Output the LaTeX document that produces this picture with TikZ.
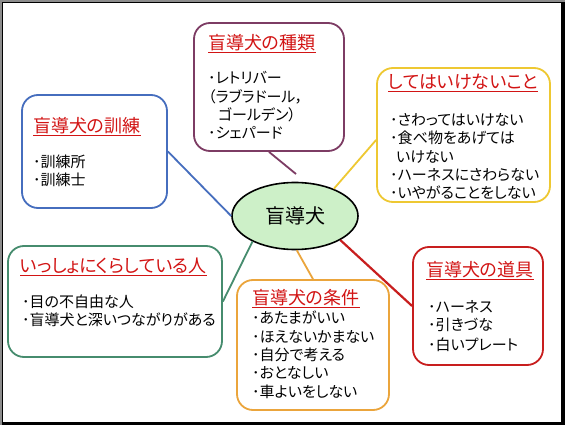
\documentclass[tikz,border=0pt]{standalone}
\usepackage{fontspec}
\newfontfamily\jp[RawFeature=+palt]{Noto Sans CJK JP}
\usetikzlibrary{calc,shapes.geometric}
\definecolor{cpurple}{RGB}{125,60,100}
\definecolor{cyellow}{RGB}{238,200,50}
\definecolor{cblue}{RGB}{70,110,190}
\definecolor{cgreen}{RGB}{70,140,110}
\definecolor{corange}{RGB}{235,165,60}
\definecolor{cred}{RGB}{200,30,30}
\definecolor{ctitle}{RGB}{210,20,20}
\definecolor{cfill}{RGB}{205,240,200}
\begin{document}
\begin{tikzpicture}[x=1pt,y=-1pt,
  box/.style={draw=#1, line width=1.8pt, rounded corners=16pt, fill=white, inner sep=0pt},
  ttl/.style={anchor=base west, inner sep=0pt, font=\jp\fontsize{18}{20}\selectfont, text=ctitle},
  bodytext/.style={anchor=base west, inner sep=0pt, font=\jp\fontsize{15}{18}\selectfont},
  conn/.style={draw=#1, line width=1.8pt}]
\useasboundingbox (0,0) rectangle (565,425);
\fill[black!45] (0,0) rectangle (565,425);
\fill[black] (2,2) rectangle (565,425);
\fill[white] (3,3) rectangle (561,422);

% boxes
\node[box=cpurple, minimum width=150pt, minimum height=128pt] (shurui) at (269,87) {};
\node[box=cyellow, minimum width=173pt, minimum height=134pt] (shite) at (463.5,135) {};
\node[box=cblue, minimum width=145pt, minimum height=113pt] (kunren) at (94.5,151.5) {};
\node[box=cgreen, minimum width=214pt, minimum height=111pt] (issho) at (115,301.5) {};
\node[box=corange, minimum width=152pt, minimum height=130pt] (joken) at (313,345) {};
\node[box=cred, minimum width=130pt, minimum height=118pt] (dougu) at (478,306) {};

% center
\node[ellipse, draw=black, line width=1.6pt, fill=cfill, minimum width=126pt, minimum height=67pt, inner sep=0pt, font=\jp\fontsize{20}{24}\selectfont] (center) at (295,216) {盲導犬};

% connectors
\coordinate (pend) at (296,174);
\draw[conn=cpurple] (shurui.south) -- (pend);
\draw[conn=cblue] (kunren.east) -- (center.west);
\draw[conn=cyellow] ($(shite.west)+(0,5)$) -- (center.35);
\draw[conn=cgreen] (issho.east) -- (center.211);
\draw[conn=corange] (joken.north) -- (center.-87);
\draw[conn=cred, line width=2.2pt] (dougu.west) -- (center.-28);

% titles
\node[ttl] (shurui-t) at (208,49.8) {\underline{盲導犬の種類}};
\node[ttl] (shite-t) at (388,88.8) {\underline{してはいけないこと}};
\node[ttl] (kunren-t) at (33,132.8) {\underline{盲導犬の訓練}};
\node[ttl] (issho-t) at (20,272.8) {\underline{いっしょにくらしている人}};
\node[ttl] (joken-t) at (252,304.8) {\underline{盲導犬の条件}};
\node[ttl] (dougu-t) at (426,276.8) {\underline{盲導犬の道具}};

% body texts
\node[bodytext] (shurui-1) at (208,83.7) {･レトリバー};
\node[bodytext] (shurui-2) at (208,102.7) {（ラブラドール，};
\node[bodytext] (shurui-3) at (218,120.7) {ゴールデン）};
\node[bodytext] (shurui-4) at (208,138.7) {･シェパード};

\node[bodytext] (shite-1) at (390,125.7) {･さわってはいけない};
\node[bodytext] (shite-2) at (390,143.7) {･食べ物をあげては};
\node[bodytext] (shite-3) at (396,162.7) {いけない};
\node[bodytext] (shite-4) at (390,180.7) {･ハーネスにさわらない};
\node[bodytext] (shite-5) at (390,198.7) {･いやがることをしない};

\node[bodytext] (kunren-1) at (33,167.7) {･訓練所};
\node[bodytext] (kunren-2) at (33,185.7) {･訓練士};

\node[bodytext] (issho-1) at (22,307.7) {･目の不自由な人};
\node[bodytext] (issho-2) at (22,325.7) {･盲導犬と深いつながりがある};

\node[bodytext] (joken-1) at (252,323.7) {･あたまがいい};
\node[bodytext] (joken-2) at (252,342.7) {･ほえないかまない};
\node[bodytext] (joken-3) at (252,360.7) {･自分で考える};
\node[bodytext] (joken-4) at (252,378.7) {･おとなしい};
\node[bodytext] (joken-5) at (252,397.7) {･車よいをしない};

\node[bodytext] (dougu-1) at (428,312.7) {･ハーネス};
\node[bodytext] (dougu-2) at (428,330.7) {･引きづな};
\node[bodytext] (dougu-3) at (428,350.7) {･白いプレート};
\end{tikzpicture}
\end{document}
